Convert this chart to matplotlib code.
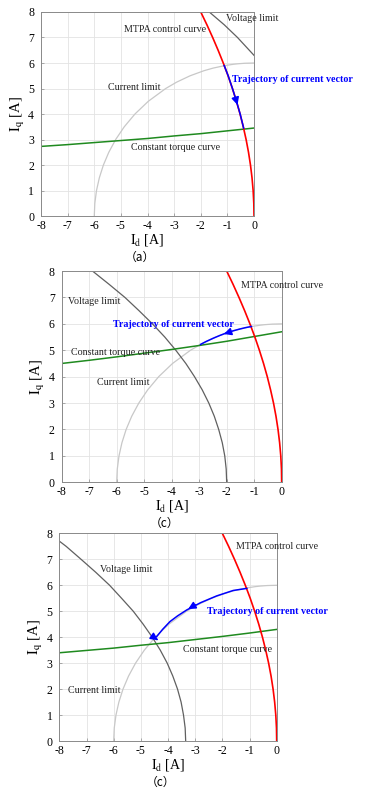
import matplotlib
matplotlib.use('Agg')
import matplotlib.pyplot as plt

plt.rcParams['font.family'] = ['Liberation Serif', 'Noto Sans CJK SC']
plt.rcParams['mathtext.fontset'] = 'stix'
plt.rcParams['axes.unicode_minus'] = False

# current limit circle (radius 6)
cur_id = [-6.0, -5.979, -5.916, -5.809, -5.657, -5.454, -5.196, -4.873, -4.472,
          -3.969, -3.317, -2.905, -2.398, -1.873, -1.536, -1.091, -0.773,
          -0.599, -0.346, 0.0]
cur_iq = [0.0, 0.5, 1.0, 1.5, 2.0, 2.5, 3.0, 3.5, 4.0,
          4.5, 5.0, 5.25, 5.5, 5.7, 5.8, 5.9, 5.95,
          5.97, 5.99, 6.0]

# MTPA control curve
mtpa_id = [0.0, -0.008, -0.033, -0.075, -0.133, -0.207, -0.297, -0.404, -0.524,
           -0.66, -0.811, -0.975, -1.155, -1.348, -1.553, -1.77, -2.0]
mtpa_iq = [0.0, 0.5, 1.0, 1.5, 2.0, 2.5, 3.0, 3.5, 4.0,
           4.5, 5.0, 5.5, 6.0, 6.5, 7.0, 7.5, 8.0]

# voltage limits (a), (c), (c)
volt_id = [
    [0.0, -0.62, -1.12, -1.68],
    [-2.0, -2.018, -2.07, -2.161, -2.29, -2.45, -2.65, -2.889, -3.17, -3.486,
     -3.85, -4.251, -4.7, -5.19, -5.7, -6.28, -6.88],
    [-3.35, -3.369, -3.43, -3.519, -3.65, -3.823, -4.03, -4.285, -4.58, -4.914,
     -5.28, -5.71, -6.15, -6.66, -7.2, -7.75, -8.0],
]
volt_iq = [
    [6.3, 7.0, 7.5, 8.0],
    [0.0, 0.5, 1.0, 1.5, 2.0, 2.5, 3.0, 3.5, 4.0, 4.5,
     5.0, 5.5, 6.0, 6.5, 7.0, 7.5, 8.0],
    [0.0, 0.5, 1.0, 1.5, 2.0, 2.5, 3.0, 3.5, 4.0, 4.5,
     5.0, 5.5, 6.0, 6.5, 7.0, 7.5, 7.7],
]

# constant torque curves
torq_id = [0.0, -1.0, -2.0, -3.0, -4.0, -5.0, -6.0, -7.0, -8.0]
torq_iq = [
    [3.45, 3.34, 3.23, 3.14, 3.04, 2.96, 2.88, 2.8, 2.73],
    [5.7, 5.52, 5.34, 5.18, 5.03, 4.89, 4.75, 4.62, 4.5],
    [4.3, 4.16, 4.03, 3.91, 3.79, 3.69, 3.58, 3.49, 3.4],
]

# current vector trajectories
traj_id = [
    [-1.12, -0.97, -0.81, -0.66, -0.52, -0.39],
    [-1.1, -1.3, -1.5, -1.75, -2.0, -2.25, -2.5, -2.75, -2.95],
    [-1.1, -1.6, -2.21, -2.8, -3.31, -3.65, -3.93, -4.2, -4.42],
]
traj_iq = [
    [5.9, 5.5, 5.0, 4.5, 4.0, 3.45],
    [5.9, 5.86, 5.81, 5.74, 5.66, 5.56, 5.45, 5.33, 5.22],
    [5.88, 5.8, 5.59, 5.33, 5.05, 4.82, 4.6, 4.3, 4.02],
]
# arrow (tail, head) on each trajectory
traj_arrows = [
    [((-0.69, 4.6), (-0.59, 4.25))],
    [((-1.8, 5.72), (-2.2, 5.58))],
    [((-2.9, 5.3), (-3.35, 5.03)), ((-4.5, 3.98), (-4.28, 3.82))],
]

captions = ['（a）', '（c）', '（c）']

# label texts: (text, id, iq)
labels = [
    [('Voltage limit', -1.06, 7.73), ('MTPA control curve', -4.89, 7.31),
     ('Current limit', -5.5, 5.05), ('Constant torque curve', -4.62, 2.68)],
    [('MTPA control curve', -1.49, 7.46), ('Voltage limit', -7.76, 6.85),
     ('Constant torque curve', -7.67, 4.92), ('Current limit', -6.73, 3.77)],
    [('MTPA control curve', -1.51, 7.51), ('Voltage limit', -6.5, 6.59),
     ('Constant torque curve', -3.46, 3.54), ('Current limit', -7.69, 1.93)],
]
traj_label = [(-0.82, 5.34), (-6.12, 5.98), (-2.58, 4.98)]

# axes boxes in figure fraction (left, bottom, width, height)
boxes = [
    (0.1085, 0.7262, 0.5635, 0.2586),
    (0.1632, 0.3887, 0.5820, 0.2678),
    (0.1570, 0.0608, 0.5750, 0.2632),
]

fig = plt.figure(figsize=(3.78, 7.89), dpi=100)

for i in range(3):
    ax = fig.add_axes(boxes[i])
    ax.set_xlim(-8, 0)
    ax.set_ylim(0, 8)
    ax.set_xticks(range(-8, 1))
    ax.set_yticks(range(0, 9))
    ax.grid(True, color='#e3e3e3', lw=0.6)
    ax.set_axisbelow(True)
    for s in ax.spines.values():
        s.set_color('#8a8a8a')
        s.set_linewidth(0.7)
    ax.tick_params(direction='in', length=2, width=0.5, color='#8a8a8a',
                   labelsize=8.5)
    ax.tick_params(axis='x', pad=3)
    ax.tick_params(axis='y', pad=5)

    ax.plot(cur_id, cur_iq, color='#c8c8c8', lw=0.9)
    ax.plot(volt_id[i], volt_iq[i], color='#606060', lw=0.9)
    ax.plot(torq_id, torq_iq[i], color='#1f8a1f', lw=1.1)
    ax.plot(mtpa_id, mtpa_iq, color='#ff0000', lw=1.2)
    ax.plot(traj_id[i], traj_iq[i], color='#0000ff', lw=1.1)
    for tail, head in traj_arrows[i]:
        ax.annotate('', xy=head, xytext=tail,
                    arrowprops=dict(arrowstyle='-|>', color='#0000ff',
                                    lw=1.1, mutation_scale=11))

    for txt, x, y in labels[i]:
        ax.text(x, y, txt, fontsize=7.2, color='#222222', va='center',
                ha='left', clip_on=False)
    ax.text(traj_label[i][0], traj_label[i][1], 'Trajectory of current vector',
            fontsize=7.2, color='#0000ff', fontweight='bold', va='center',
            ha='left', clip_on=False)

    ax.set_xlabel(r'$\mathrm{I_d}$ [A]', fontsize=10, labelpad=0)
    ax.set_ylabel(r'$\mathrm{I_q}$ [A]', fontsize=10.5, labelpad=1)

    b = boxes[i]
    fig.text(b[0] + b[2] / 2 - 0.02, b[1] - 0.0525, captions[i], fontsize=8.5,
             ha='center', va='center',
             family=['Noto Sans CJK SC', 'Liberation Serif'])

fig.savefig('out.png', dpi=100)
